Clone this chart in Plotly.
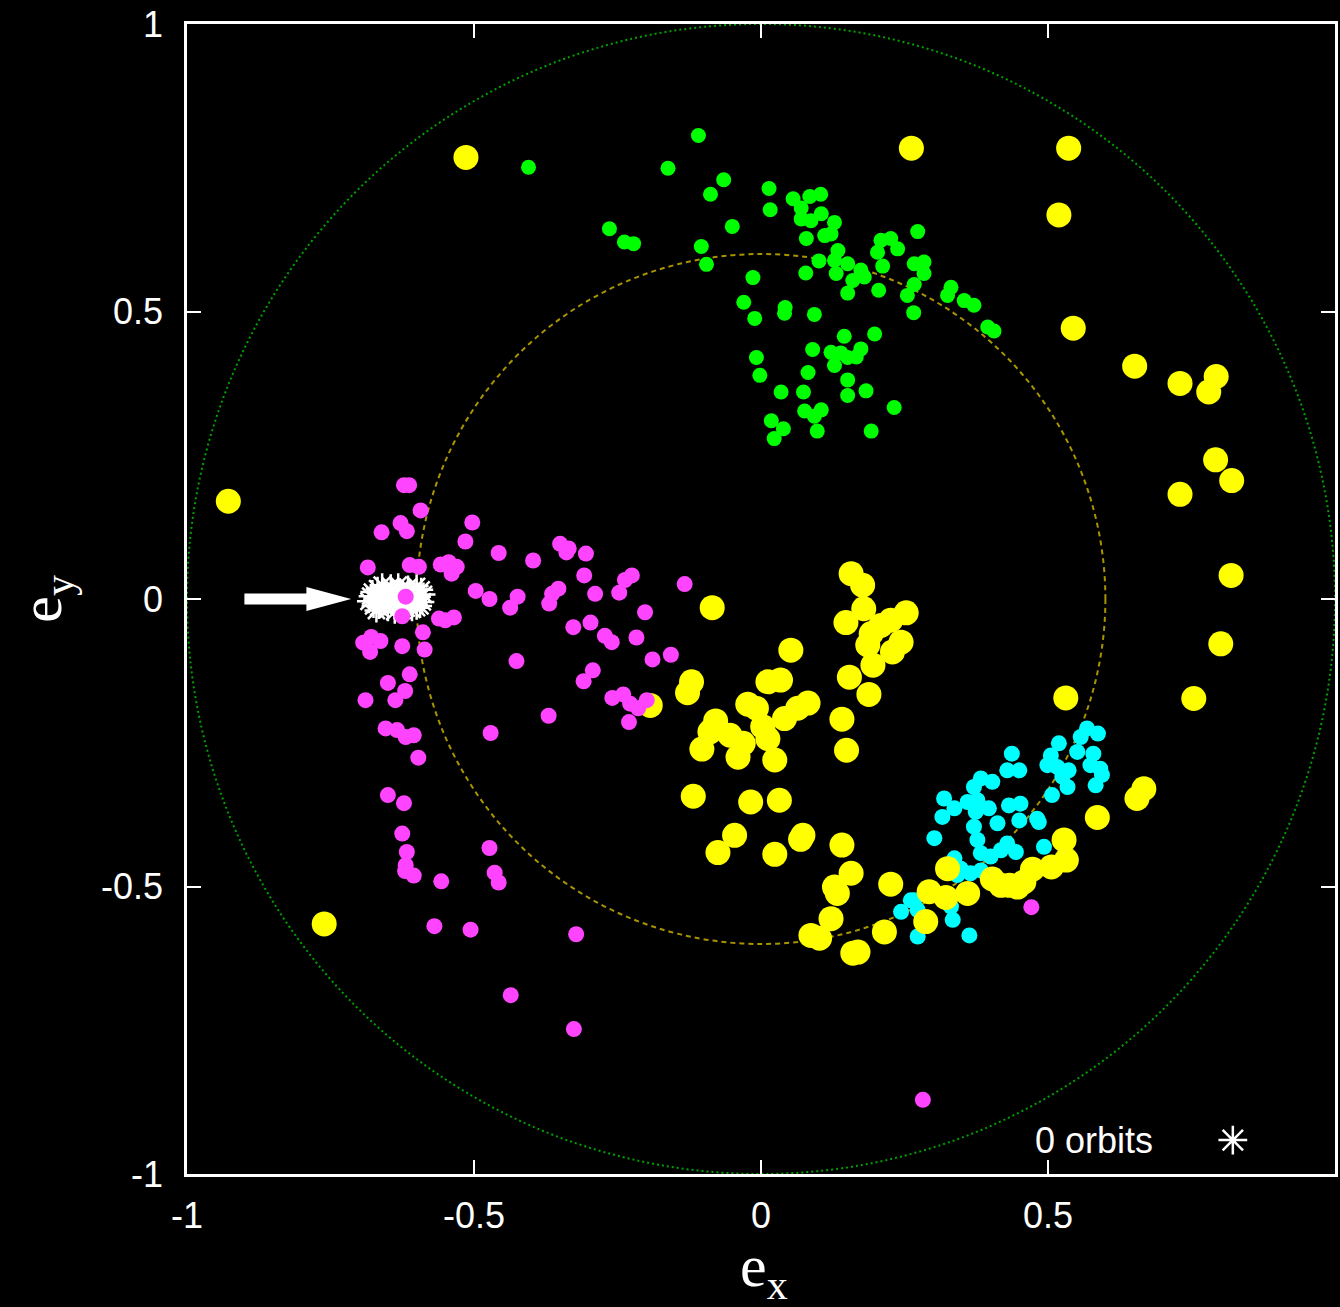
import plotly.graph_objects as go

# Eccentricity-vector samples (e_x, e_y) for each family of orbits
GREEN_PTS = [
    (-0.109, 0.806), (-0.162, 0.749), (-0.065, 0.729), (-0.088, 0.704), (0.014, 0.714),
    (0.016, 0.677), (0.056, 0.696), (0.085, 0.700), (0.104, 0.704), (0.070, 0.680),
    (0.105, 0.670), (0.070, 0.661), (0.087, 0.658), (-0.264, 0.644), (-0.238, 0.621),
    (-0.222, 0.618), (-0.050, 0.648), (-0.104, 0.613), (-0.095, 0.582), (0.128, 0.655),
    (0.122, 0.635), (0.111, 0.632), (0.079, 0.627), (0.134, 0.606), (0.128, 0.589),
    (0.101, 0.588), (0.078, 0.567), (0.131, 0.566), (0.151, 0.583), (0.174, 0.572),
    (0.180, 0.560), (0.160, 0.554), (0.151, 0.532), (0.209, 0.624), (0.226, 0.627),
    (0.238, 0.609), (0.203, 0.603), (0.212, 0.579), (0.273, 0.639), (0.267, 0.583),
    (0.284, 0.586), (0.284, 0.566), (0.267, 0.547), (0.255, 0.528), (0.205, 0.537),
    (0.266, 0.498), (0.331, 0.542), (0.325, 0.528), (0.354, 0.519), (0.371, 0.511),
    (0.395, 0.473), (0.406, 0.466), (-0.014, 0.559), (-0.030, 0.516), (-0.011, 0.488),
    (0.042, 0.507), (0.041, 0.497), (0.093, 0.495), (0.145, 0.457), (0.198, 0.461),
    (0.090, 0.434), (0.122, 0.429), (0.139, 0.428), (0.151, 0.420), (0.166, 0.421),
    (0.174, 0.435), (0.128, 0.406), (-0.008, 0.420), (-0.002, 0.389), (0.082, 0.394),
    (0.151, 0.381), (0.035, 0.360), (0.074, 0.360), (0.183, 0.362), (0.151, 0.354),
    (0.076, 0.327), (0.105, 0.329), (0.093, 0.318), (0.018, 0.310), (0.039, 0.296),
    (0.023, 0.279), (0.098, 0.292), (0.192, 0.292), (0.232, 0.333), (-0.405, 0.751),
]

CYAN_PTS = [
    (0.568, -0.225), (0.587, -0.234), (0.557, -0.240), (0.551, -0.266), (0.579, -0.269),
    (0.574, -0.289), (0.591, -0.295), (0.594, -0.306), (0.583, -0.324), (0.519, -0.251),
    (0.505, -0.272), (0.499, -0.289), (0.516, -0.292), (0.536, -0.298), (0.525, -0.309),
    (0.534, -0.327), (0.507, -0.341), (0.437, -0.269), (0.429, -0.298), (0.450, -0.298),
    (0.383, -0.312), (0.403, -0.318), (0.371, -0.327), (0.319, -0.347), (0.360, -0.353),
    (0.377, -0.350), (0.337, -0.364), (0.316, -0.379), (0.397, -0.364), (0.371, -0.396),
    (0.374, -0.370), (0.432, -0.359), (0.452, -0.356), (0.450, -0.385), (0.481, -0.382),
    (0.412, -0.390), (0.377, -0.419), (0.302, -0.416), (0.429, -0.425), (0.444, -0.440),
    (0.418, -0.437), (0.383, -0.442), (0.400, -0.448), (0.493, -0.431), (0.337, -0.451),
    (0.348, -0.469), (0.383, -0.472), (0.267, -0.524), (0.244, -0.544), (0.273, -0.541),
    (0.331, -0.535), (0.334, -0.558), (0.273, -0.587), (0.363, -0.585), (0.342, -0.480),
    (0.365, -0.477), (0.261, -0.524), (0.484, -0.388),
]

YELLOW_PTS = [
    (-0.514, 0.768), (0.262, 0.784), (-0.928, 0.170), (-0.761, -0.565),
    (0.536, 0.784), (0.519, 0.668), (0.544, 0.471), (0.651, 0.405), (0.730, 0.375),
    (0.793, 0.387), (0.780, 0.360), (0.792, 0.242), (0.820, 0.206), (0.730, 0.182),
    (0.819, 0.041), (0.801, -0.078), (0.531, -0.172), (0.754, -0.173),
    (0.655, -0.347), (0.667, -0.330), (0.586, -0.380),
    (0.528, -0.419), (0.532, -0.454), (0.506, -0.466), (0.473, -0.470), (0.458, -0.492),
    (0.447, -0.501), (0.433, -0.498), (0.418, -0.498), (0.403, -0.487), (0.360, -0.512),
    (0.325, -0.469), (0.322, -0.519), (0.293, -0.509), (0.287, -0.561), (0.226, -0.496),
    (0.215, -0.579), (0.169, -0.614), (0.160, -0.616), (0.102, -0.590), (0.087, -0.585),
    (0.122, -0.556), (0.133, -0.512), (0.128, -0.501), (0.157, -0.477), (0.141, -0.428),
    (0.073, -0.411), (0.069, -0.418), (0.024, -0.444), (-0.075, -0.441), (-0.046, -0.411),
    (-0.118, -0.343), (-0.018, -0.353), (0.032, -0.350),
    (-0.085, -0.015), (0.157, 0.044), (0.177, 0.024), (0.179, -0.017), (0.148, -0.041),
    (0.253, -0.024), (0.226, -0.037), (0.209, -0.046), (0.192, -0.060), (0.186, -0.080),
    (0.244, -0.075), (0.229, -0.092), (0.195, -0.115), (0.154, -0.136), (0.188, -0.166),
    (0.141, -0.209), (0.149, -0.263), (0.052, -0.089), (-0.121, -0.144), (-0.128, -0.163),
    (-0.193, -0.185), (0.012, -0.144), (0.034, -0.141), (-0.023, -0.183), (-0.008, -0.190),
    (0.082, -0.181), (0.064, -0.190), (0.041, -0.208), (-0.079, -0.212), (-0.089, -0.231),
    (-0.054, -0.237), (-0.031, -0.251), (0.003, -0.222), (0.012, -0.243), (-0.103, -0.261),
    (-0.040, -0.275), (0.024, -0.280),
]

MAGENTA_PTS = [
    (-0.622, 0.198), (-0.613, 0.198), (-0.593, 0.154), (-0.628, 0.132), (-0.617, 0.118),
    (-0.661, 0.116), (-0.503, 0.133), (-0.515, 0.100), (-0.457, 0.080), (-0.397, 0.067),
    (-0.350, 0.096), (-0.335, 0.088), (-0.339, 0.081), (-0.305, 0.079), (-0.685, 0.055),
    (-0.612, 0.059), (-0.596, 0.056), (-0.558, 0.060), (-0.544, 0.064), (-0.530, 0.056),
    (-0.539, 0.044), (-0.308, 0.041), (-0.289, 0.009), (-0.225, 0.041), (-0.237, 0.033),
    (-0.247, 0.011), (-0.133, 0.026), (-0.353, 0.018), (-0.364, 0.009), (-0.369, -0.008),
    (-0.497, 0.014), (-0.473, 0.000), (-0.424, 0.004), (-0.437, -0.015), (-0.619, 0.004),
    (-0.625, -0.030), (-0.561, -0.034), (-0.550, -0.037), (-0.535, -0.032), (-0.202, -0.023),
    (-0.327, -0.049), (-0.297, -0.041), (-0.272, -0.064), (-0.260, -0.075), (-0.217, -0.067),
    (-0.189, -0.105), (-0.157, -0.097), (-0.693, -0.076), (-0.679, -0.066), (-0.663, -0.073),
    (-0.681, -0.092), (-0.625, -0.082), (-0.589, -0.058), (-0.586, -0.088), (-0.426, -0.108),
    (-0.293, -0.124), (-0.309, -0.143), (-0.612, -0.131), (-0.650, -0.146), (-0.620, -0.160),
    (-0.637, -0.176), (-0.689, -0.176), (-0.259, -0.172), (-0.240, -0.166), (-0.228, -0.182),
    (-0.199, -0.176), (-0.214, -0.190), (-0.230, -0.214), (-0.370, -0.203), (-0.471, -0.233),
    (-0.654, -0.225), (-0.634, -0.228), (-0.619, -0.240), (-0.605, -0.237), (-0.597, -0.276),
    (-0.650, -0.341), (-0.622, -0.355), (-0.625, -0.408), (-0.617, -0.440), (-0.619, -0.463),
    (-0.620, -0.473), (-0.605, -0.481), (-0.557, -0.491), (-0.473, -0.433), (-0.464, -0.476),
    (-0.457, -0.493), (-0.569, -0.569), (-0.506, -0.575), (-0.322, -0.583), (-0.436, -0.689),
    (-0.326, -0.748), (0.471, -0.536), (0.282, -0.871),
]

# Initial conditions of the "0 orbits" set (asterisks), packed tightly
WHITE_PTS = [
    (-0.680, 0.005), (-0.675, -0.012), (-0.668, 0.018), (-0.662, -0.004), (-0.655, 0.012),
    (-0.650, -0.018), (-0.645, 0.022), (-0.640, 0.000), (-0.635, -0.010), (-0.630, 0.015),
    (-0.625, -0.020), (-0.620, 0.006), (-0.615, 0.020), (-0.612, -0.008), (-0.605, 0.010),
    (-0.600, -0.015), (-0.596, 0.004), (-0.592, 0.016), (-0.590, -0.005), (-0.660, 0.024),
    (-0.638, -0.022), (-0.670, -0.020), (-0.618, -0.016), (-0.600, 0.022), (-0.648, 0.008),
    (-0.683, -0.004), (-0.677, 0.012), (-0.672, 0.000), (-0.666, -0.014), (-0.664, 0.008),
    (-0.657, -0.008), (-0.652, 0.002), (-0.644, -0.006), (-0.642, 0.014), (-0.633, 0.004),
    (-0.628, -0.008), (-0.624, 0.010), (-0.610, 0.002), (-0.608, -0.018), (-0.603, -0.004),
    (-0.594, -0.012), (-0.588, 0.008), (-0.632, 0.024), (-0.612, 0.014),
]

X_TICKS = [-1, -0.5, 0, 0.5, 1]
Y_TICKS = [-1, -0.5, 0, 0.5, 1]
X_TICK_TEXT = ["-1", "-0.5", "0", "0.5", "1"]
Y_TICK_TEXT = ["-1", "-0.5", "0", "0.5", "1"]

OUTER_RADIUS = 1.0
INNER_RADIUS = 0.6

KEY_LABEL = "0 orbits"
KEY_POS = (0.822, -0.941)
ARROW_TAIL, ARROW_TIP, ARROW_Y = -0.900, -0.714, 0.0

fig = go.Figure()


def add_points(points, color, size, symbol="circle", line_width=0):
    xs = [p[0] for p in points]
    ys = [p[1] for p in points]
    marker = dict(color=color, size=size, symbol=symbol, line=dict(width=line_width, color=color))
    fig.add_trace(go.Scatter(x=xs, y=ys, mode="markers", marker=marker,
                             hoverinfo="x+y", showlegend=False))


add_points(GREEN_PTS, "#00ff00", 15)
add_points(CYAN_PTS, "#00ffff", 16)
add_points(YELLOW_PTS, "#ffff00", 25)
add_points(WHITE_PTS, "#ffffff", 20, symbol="asterisk-open", line_width=2.5)
add_points(MAGENTA_PTS, "#ff44ff", 16)

# key sample for the asterisk set
fig.add_trace(go.Scatter(x=[KEY_POS[0]], y=[KEY_POS[1]], mode="markers",
                         marker=dict(symbol="asterisk-open", size=24, color="#ffffff",
                                     line=dict(width=2.5, color="#ffffff")),
                         hoverinfo="skip", showlegend=False))

shapes = [
    dict(type="circle", xref="x", yref="y", layer="below",
         x0=-OUTER_RADIUS, y0=-OUTER_RADIUS, x1=OUTER_RADIUS, y1=OUTER_RADIUS,
         line=dict(color="#00a000", width=2, dash="2px,3px")),
    dict(type="circle", xref="x", yref="y", layer="below",
         x0=-INNER_RADIUS, y0=-INNER_RADIUS, x1=INNER_RADIUS, y1=INNER_RADIUS,
         line=dict(color="#a89400", width=2, dash="5px,4px")),
]

# white arrow pointing at the asterisk cluster
shaft_h, head_h = 0.0096, 0.021
head_base = ARROW_TIP - 0.078
arrow_path = (
    f"M {ARROW_TAIL},{ARROW_Y - shaft_h} L {head_base},{ARROW_Y - shaft_h} "
    f"L {head_base},{ARROW_Y - head_h} L {ARROW_TIP},{ARROW_Y} "
    f"L {head_base},{ARROW_Y + head_h} L {head_base},{ARROW_Y + shaft_h} "
    f"L {ARROW_TAIL},{ARROW_Y + shaft_h} Z"
)
shapes.append(dict(type="path", xref="x", yref="y", path=arrow_path,
                   fillcolor="#ffffff", line=dict(width=0)))

axis_common = dict(
    showgrid=False, zeroline=False, showline=True, linecolor="#ffffff", linewidth=2.5,
    mirror="ticks", ticks="inside", ticklen=14, tickwidth=1.5, tickcolor="#ffffff",
    tickfont=dict(family="Liberation Sans, Arial, sans-serif", size=36, color="#ffffff"),
)

fig.update_xaxes(range=[-1, 1], tickvals=X_TICKS, ticktext=X_TICK_TEXT,
                 ticklabelstandoff=8, **axis_common)
fig.update_yaxes(range=[-1, 1], tickvals=Y_TICKS, ticktext=Y_TICK_TEXT,
                 ticklabelstandoff=14, **axis_common)

annotations = [
    dict(text="e<sub>x</sub>", xref="paper", yref="paper", x=0.503, y=-0.084,
         xanchor="center", yanchor="middle", showarrow=False,
         font=dict(family="Liberation Serif, Times New Roman, serif", size=60, color="#ffffff")),
    dict(text="e<sub>y</sub>", xref="paper", yref="paper", x=-0.124, y=0.5,
         xanchor="center", yanchor="middle", showarrow=False, textangle=-90,
         font=dict(family="Liberation Serif, Times New Roman, serif", size=60, color="#ffffff")),
    dict(text=KEY_LABEL, xref="x", yref="y", x=0.687, y=KEY_POS[1],
         xanchor="right", yanchor="middle", showarrow=False,
         font=dict(family="Liberation Sans, Arial, sans-serif", size=36, color="#ffffff")),
]

fig.update_layout(
    width=1340, height=1307,
    margin=dict(l=187, r=2, t=24, b=133, pad=0),
    paper_bgcolor="#000000", plot_bgcolor="#000000",
    shapes=shapes, annotations=annotations,
    showlegend=False,
)

fig.write_html("out.html", config={"displayModeBar": False})
